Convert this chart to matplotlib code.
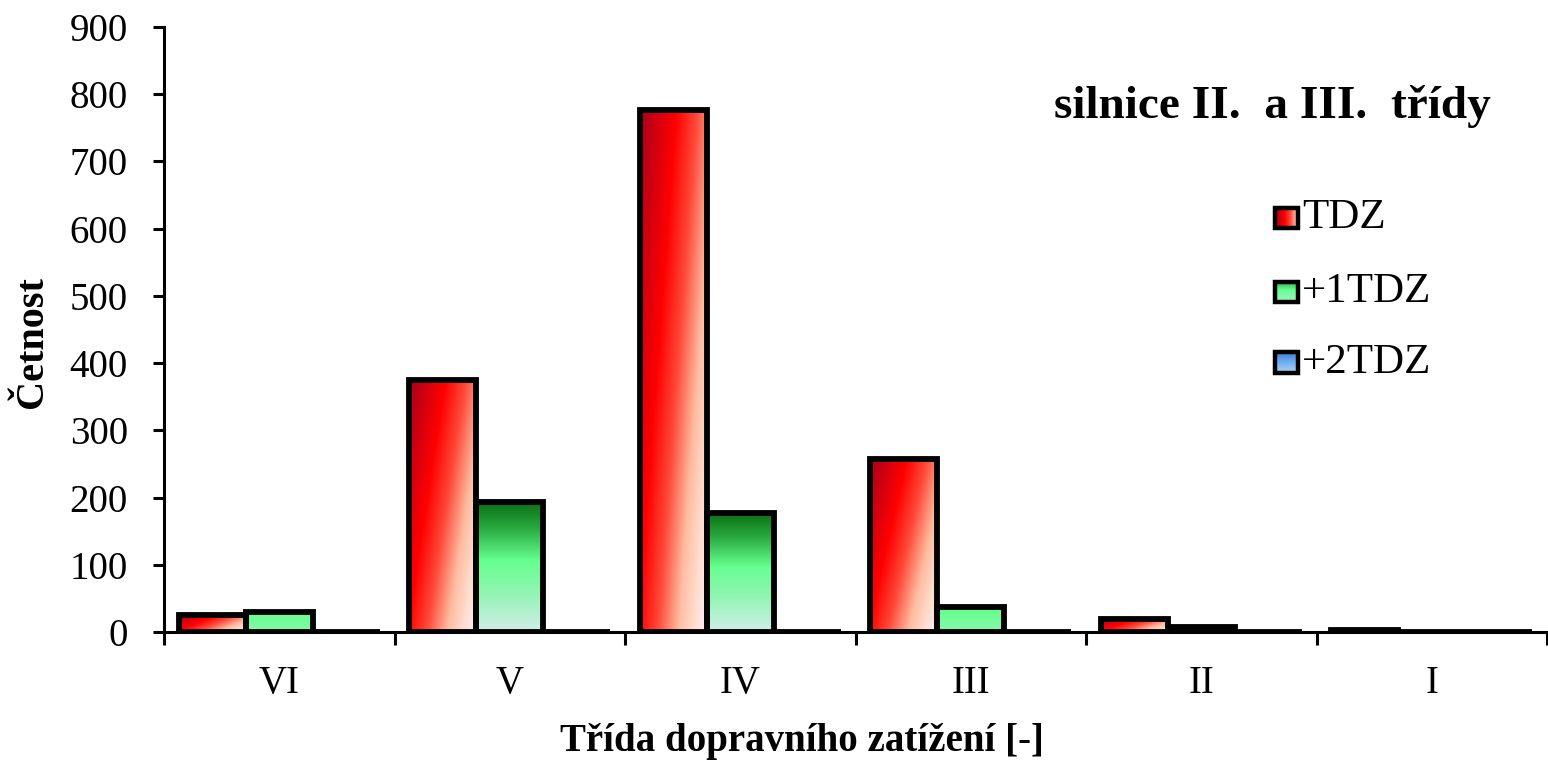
import numpy as np
import matplotlib
matplotlib.use("Agg")
import matplotlib.pyplot as plt
from matplotlib.colors import LinearSegmentedColormap

# Traffic load classes and frequency counts per series
categories = ["VI", "V", "IV", "III", "II", "I"]
series_names = ["TDZ", "+1TDZ", "+2TDZ"]
tdz = [25, 375, 777, 257, 20, 3]
tdz_plus1 = [30, 193, 177, 37, 7, 0]
tdz_plus2 = [0, 0, 0, 0, 0, 0]

title_text = "silnice II.  a III.  třídy"
x_label = "Třída dopravního zatížení [-]"
y_label = "Četnost"
y_ticks = list(range(0, 901, 100))

plt.rcParams["font.family"] = ["Liberation Serif", "DejaVu Serif"]

red_cmap = LinearSegmentedColormap.from_list(
    "red_grad",
    [(0.0, "#A8001E"), (0.35, "#FF0000"), (0.55, "#FF4A3A"),
     (0.75, "#FFBCA0"), (0.9, "#FFDECE"), (1.0, "#FFE8F0")])
green_cmap = LinearSegmentedColormap.from_list(
    "green_grad",
    [(0.0, "#D2EEEA"), (0.3, "#90F5B2"), (0.55, "#66FF90"),
     (0.8, "#2AAA40"), (1.0, "#0B7015")])
blue_cmap = LinearSegmentedColormap.from_list(
    "blue_grad",
    [(0.0, "#D8E8F8"), (0.5, "#70B0F0"), (1.0, "#2060C0")])

fig = plt.figure(figsize=(15.48, 7.66), dpi=100)
ax = fig.add_axes([164 / 1548, 1 - 632 / 766, 1383 / 1548, 605 / 766])

n = len(categories)
x = np.arange(n)
width = 0.29
offsets = [-width, 0.0, width]
values = [tdz, tdz_plus1, tdz_plus2]
cmaps = [red_cmap, green_cmap, blue_cmap]

ax.set_xlim(-0.5, n - 0.5)
ax.set_ylim(0, 900)

ny, nx = 200, 60
yy, xx = np.mgrid[0:ny, 0:nx]
xf = xx / (nx - 1)
yf = 1 - yy / (ny - 1)  # 1 at the top row of the image


def red_field(h):
    # diagonal shading: dark at top-left, pale at bottom-right
    return np.clip(0.64 * xf + 0.38 * (1 - yf), 0, 1)


def vertical_field(h):
    # short bars keep the mid-tones of the vertical gradient
    s = min(1.0, h / 150.0)
    return yf * s + (1 - s) * 0.45


fields = [red_field, vertical_field, vertical_field]

for vals, off, cmap, field in zip(values, offsets, cmaps, fields):
    bars = ax.bar(x + off, vals, width=width, align="center",
                  facecolor="none", edgecolor="black", linewidth=4.2,
                  zorder=4)
    for rect, v in zip(bars, vals):
        if v <= 0:
            continue
        x0 = rect.get_x()
        im = ax.imshow(field(v), cmap=cmap, vmin=0, vmax=1, aspect="auto",
                       extent=(x0, x0 + width, 0, v), origin="upper",
                       interpolation="bilinear", zorder=3)
        im.set_clip_path(rect)

# axes styling
for side in ["top", "right"]:
    ax.spines[side].set_visible(False)
for side in ["left", "bottom"]:
    ax.spines[side].set_linewidth(2.2)
    ax.spines[side].set_zorder(5)

ax.set_yticks(y_ticks)
ax.tick_params(axis="y", direction="out", length=8, width=2.2,
               labelsize=28, pad=18)
ax.set_xticks(np.arange(-0.5, n, 1.0))
ax.set_xticklabels([])
ax.tick_params(axis="x", which="major", direction="out", length=9, width=2.2)
ax.set_xticks(x, minor=True)
ax.set_xticklabels(categories, minor=True)
ax.tick_params(axis="x", which="minor", length=0, labelsize=28, pad=24)

fig.text(802 / 1548, 1 - 742 / 766, x_label, ha="center", va="center",
         fontsize=28, fontweight="bold")
fig.text(32 / 1548, 1 - 342 / 766, y_label, ha="center", va="center",
         rotation=90, fontsize=29, fontweight="bold")

ax.text(0.9595, 0.868, title_text, transform=ax.transAxes, ha="right",
        va="center", fontsize=34, fontweight="bold")

# legend drawn as swatches in axes coordinates
leg_y = [0.684, 0.562, 0.445]
sw_x0, sw_x1 = 0.803, 0.820
sw_h = 0.034
gx = np.linspace(0, 1, 40)[None, :] * np.ones((20, 1))
gy = np.linspace(1, 0, 20)[:, None] * np.ones((1, 40))
swatch_fields = [np.clip(gx, 0, 1) * 0.85, gy * 0.6 + 0.2, gy * 0.6 + 0.2]
for name, yc, cmap, fld in zip(series_names, leg_y, cmaps, swatch_fields):
    ax.imshow(fld, cmap=cmap, vmin=0, vmax=1, aspect="auto",
              extent=(sw_x0, sw_x1, yc - sw_h / 2, yc + sw_h / 2),
              transform=ax.transAxes, zorder=6, clip_on=False)
    ax.add_patch(plt.Rectangle((sw_x0, yc - sw_h / 2), sw_x1 - sw_x0, sw_h,
                               transform=ax.transAxes, facecolor="none",
                               edgecolor="black", linewidth=3.2, zorder=7,
                               clip_on=False))
    ax.text(sw_x1 + 0.003, yc, name, transform=ax.transAxes, ha="left",
            va="center", fontsize=31)

ax.set_xlim(-0.5, n - 0.5)
ax.set_ylim(0, 900)

fig.savefig("out.png", dpi=100)
